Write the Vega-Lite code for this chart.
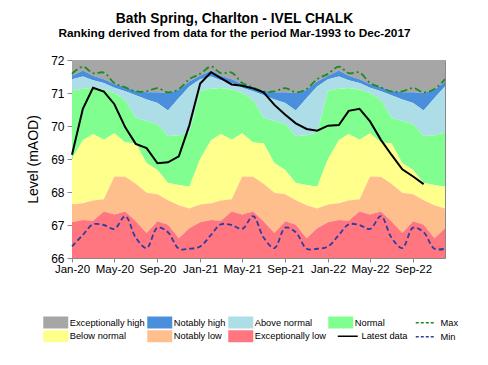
{
  "$schema": "https://vega.github.io/schema/vega-lite/v6.json",
  "autosize": {"type": "none"},
  "padding": {"left": 72, "top": 60, "right": 43, "bottom": 107},
  "width": 373,
  "height": 198,
  "title": {
    "text": "Bath Spring, Charlton - IVEL CHALK",
    "subtitle": "Ranking derived from data for the period Mar-1993 to Dec-2017",
    "font": "Liberation Sans", "fontSize": 13.8, "fontWeight": "bold", "color": "black",
    "subtitleFont": "Liberation Sans", "subtitleFontSize": 11.8, "subtitleFontWeight": "bold", "subtitleColor": "black",
    "subtitlePadding": 2, "anchor": "middle", "dx": -24, "offset": 14
  },
  "config": {
    "view": {"stroke": "#888"},
    "font": "Liberation Sans",
    "axisY": {"tickCount": 7, "labelOverlap": false, "labelFontSize": 12, "labelFont": "Liberation Sans", "labelColor": "black", "tickSize": 5, "labelPadding": 3, "domainColor": "#888", "tickColor": "#888", "grid": false}
  },
  "data": {"values": [
    {"d":"2020-01-01","b1":71.52,"b2":71.42,"b3":71.07,"b4":69.0,"b5":67.62,"b6":67.08,"mx":71.58,"mn":66.35,"lt":69.13},
    {"d":"2020-02-01","b1":71.68,"b2":71.5,"b3":71.13,"b4":69.57,"b5":67.66,"b6":67.15,"mx":71.8,"mn":66.7,"lt":70.52},
    {"d":"2020-03-01","b1":71.52,"b2":71.39,"b3":71.15,"b4":69.76,"b5":67.74,"b6":67.13,"mx":71.6,"mn":67.02,"lt":71.16},
    {"d":"2020-04-01","b1":71.42,"b2":71.3,"b3":71.1,"b4":69.58,"b5":67.78,"b6":67.41,"mx":71.62,"mn":67.0,"lt":71.04},
    {"d":"2020-05-01","b1":71.27,"b2":71.16,"b3":71.0,"b4":69.78,"b5":68.47,"b6":67.32,"mx":71.3,"mn":66.88,"lt":70.66},
    {"d":"2020-06-01","b1":71.18,"b2":71.05,"b3":70.78,"b4":69.5,"b5":68.46,"b6":67.41,"mx":71.17,"mn":67.27,"lt":69.96},
    {"d":"2020-07-01","b1":71.07,"b2":70.93,"b3":70.25,"b4":69.48,"b5":68.25,"b6":67.11,"mx":71.05,"mn":66.62,"lt":69.46},
    {"d":"2020-08-01","b1":71.02,"b2":70.8,"b3":70.15,"b4":68.87,"b5":67.98,"b6":66.76,"mx":71.05,"mn":66.3,"lt":69.33},
    {"d":"2020-09-01","b1":71.02,"b2":70.7,"b3":70.05,"b4":68.67,"b5":67.93,"b6":67.11,"mx":71.15,"mn":66.92,"lt":68.87},
    {"d":"2020-10-01","b1":71.0,"b2":70.47,"b3":69.7,"b4":68.27,"b5":67.75,"b6":67.01,"mx":71.02,"mn":66.78,"lt":68.9},
    {"d":"2020-11-01","b1":71.1,"b2":70.85,"b3":69.72,"b4":68.21,"b5":67.6,"b6":66.6,"mx":71.12,"mn":66.28,"lt":69.08},
    {"d":"2020-12-01","b1":71.35,"b2":71.2,"b3":69.8,"b4":68.16,"b5":67.5,"b6":66.9,"mx":71.42,"mn":66.28,"lt":70.02},
    {"d":"2021-01-01","b1":71.52,"b2":71.42,"b3":71.07,"b4":69.0,"b5":67.62,"b6":67.08,"mx":71.58,"mn":66.35,"lt":71.29},
    {"d":"2021-02-01","b1":71.68,"b2":71.5,"b3":71.13,"b4":69.57,"b5":67.66,"b6":67.15,"mx":71.8,"mn":66.7,"lt":71.63},
    {"d":"2021-03-01","b1":71.52,"b2":71.39,"b3":71.15,"b4":69.76,"b5":67.74,"b6":67.13,"mx":71.6,"mn":67.02,"lt":71.45},
    {"d":"2021-04-01","b1":71.42,"b2":71.3,"b3":71.1,"b4":69.58,"b5":67.78,"b6":67.41,"mx":71.62,"mn":67.0,"lt":71.26},
    {"d":"2021-05-01","b1":71.27,"b2":71.16,"b3":71.0,"b4":69.78,"b5":68.47,"b6":67.32,"mx":71.3,"mn":66.88,"lt":71.22},
    {"d":"2021-06-01","b1":71.18,"b2":71.05,"b3":70.78,"b4":69.5,"b5":68.46,"b6":67.41,"mx":71.17,"mn":67.27,"lt":71.14},
    {"d":"2021-07-01","b1":71.07,"b2":70.93,"b3":70.25,"b4":69.48,"b5":68.25,"b6":67.11,"mx":71.05,"mn":66.62,"lt":71.02},
    {"d":"2021-08-01","b1":71.02,"b2":70.8,"b3":70.15,"b4":68.87,"b5":67.98,"b6":66.76,"mx":71.05,"mn":66.3,"lt":70.64},
    {"d":"2021-09-01","b1":71.02,"b2":70.7,"b3":70.05,"b4":68.67,"b5":67.93,"b6":67.11,"mx":71.15,"mn":66.92,"lt":70.34},
    {"d":"2021-10-01","b1":71.0,"b2":70.47,"b3":69.7,"b4":68.27,"b5":67.75,"b6":67.01,"mx":71.02,"mn":66.78,"lt":70.08},
    {"d":"2021-11-01","b1":71.1,"b2":70.85,"b3":69.72,"b4":68.21,"b5":67.6,"b6":66.6,"mx":71.12,"mn":66.28,"lt":69.91},
    {"d":"2021-12-01","b1":71.35,"b2":71.2,"b3":69.8,"b4":68.16,"b5":67.5,"b6":66.9,"mx":71.42,"mn":66.28,"lt":69.86},
    {"d":"2022-01-01","b1":71.52,"b2":71.42,"b3":71.07,"b4":69.0,"b5":67.62,"b6":67.08,"mx":71.58,"mn":66.35,"lt":70.01},
    {"d":"2022-02-01","b1":71.68,"b2":71.5,"b3":71.13,"b4":69.57,"b5":67.66,"b6":67.15,"mx":71.8,"mn":66.7,"lt":70.03},
    {"d":"2022-03-01","b1":71.52,"b2":71.39,"b3":71.15,"b4":69.76,"b5":67.74,"b6":67.13,"mx":71.6,"mn":67.02,"lt":70.46},
    {"d":"2022-04-01","b1":71.42,"b2":71.3,"b3":71.1,"b4":69.58,"b5":67.78,"b6":67.41,"mx":71.62,"mn":67.0,"lt":70.52},
    {"d":"2022-05-01","b1":71.27,"b2":71.16,"b3":71.0,"b4":69.78,"b5":68.47,"b6":67.32,"mx":71.3,"mn":66.88,"lt":70.14},
    {"d":"2022-06-01","b1":71.18,"b2":71.05,"b3":70.78,"b4":69.5,"b5":68.46,"b6":67.41,"mx":71.17,"mn":67.27,"lt":69.58},
    {"d":"2022-07-01","b1":71.07,"b2":70.93,"b3":70.25,"b4":69.48,"b5":68.25,"b6":67.11,"mx":71.05,"mn":66.62,"lt":69.13},
    {"d":"2022-08-01","b1":71.02,"b2":70.8,"b3":70.15,"b4":68.87,"b5":67.98,"b6":66.76,"mx":71.05,"mn":66.3,"lt":68.69},
    {"d":"2022-09-01","b1":71.02,"b2":70.7,"b3":70.05,"b4":68.67,"b5":67.93,"b6":67.11,"mx":71.15,"mn":66.92,"lt":68.47},
    {"d":"2022-10-01","b1":71.0,"b2":70.47,"b3":69.7,"b4":68.27,"b5":67.75,"b6":67.01,"mx":71.02,"mn":66.78,"lt":68.24},
    {"d":"2022-11-01","b1":71.1,"b2":70.85,"b3":69.72,"b4":68.21,"b5":67.6,"b6":66.6,"mx":71.12,"mn":66.28,"lt":null},
    {"d":"2022-12-01","b1":71.35,"b2":71.2,"b3":69.8,"b4":68.16,"b5":67.5,"b6":66.9,"mx":71.42,"mn":66.28,"lt":null}
  ]},
  "encoding": {
    "x": {
      "field": "d", "type": "temporal",
      "scale": {"type": "utc", "domain": [{"year": 2020, "month": 1, "date": 1, "utc": true}, {"year": 2022, "month": 12, "date": 1, "utc": true}], "nice": false},
      "axis": {
        "title": null, "format": "%b-%y", "grid": false,
        "values": [
          {"year": 2020, "month": 1, "date": 1, "utc": true},
          {"year": 2020, "month": 5, "date": 1, "utc": true},
          {"year": 2020, "month": 9, "date": 1, "utc": true},
          {"year": 2021, "month": 1, "date": 1, "utc": true},
          {"year": 2021, "month": 5, "date": 1, "utc": true},
          {"year": 2021, "month": 9, "date": 1, "utc": true},
          {"year": 2022, "month": 1, "date": 1, "utc": true},
          {"year": 2022, "month": 5, "date": 1, "utc": true},
          {"year": 2022, "month": 9, "date": 1, "utc": true}
        ],
        "labelFont": "Liberation Sans", "labelFontSize": 11.5, "labelColor": "black",
        "labelOverlap": false, "labelFlush": false,
        "tickSize": 4, "labelPadding": 1, "domainColor": "#888", "tickColor": "#888"
      }
    }
  },
  "layer": [
    {
      "mark": {"type": "area", "opacity": 1},
      "encoding": {
        "y": {"field": "b1", "type": "quantitative",
          "scale": {"domain": [66, 72], "nice": false, "zero": false},
          "axis": {"title": "Level (mAOD)", "values": [66, 67, 68, 69, 70, 71, 72], "labelOverlap": false, "tickCount": 7,
            "titleFont": "Liberation Sans", "titleFontSize": 14, "titleFontWeight": "normal", "titleColor": "black", "titlePadding": 10}},
        "y2": {"datum": 72},
        "fill": {"datum": "Exceptionally high", "type": "nominal",
          "scale": {
            "domain": ["Exceptionally high", "Notably high", "Above normal", "Normal", "Below normal", "Notably low", "Exceptionally low"],
            "range": ["#A6A6A6", "#4A8FDB", "#ADDDE7", "#80FF90", "#FFFF8C", "#FFBF8C", "#FF7580"]
          },
          "legend": {
            "orient": "none", "legendX": -22.75, "legendY": 255.75, "title": null,
            "columns": 4, "direction": "horizontal", "padding": 0,
            "columnPadding": 2, "rowPadding": 1,
            "symbolType": "M-2,-0.96H2V0.96H-2Z", "symbolSize": 156, "symbolStrokeWidth": 0, "symbolOpacity": 1,
            "labelOffset": 7.5,
            "labelFont": "Liberation Sans", "labelFontSize": 9.3, "labelColor": "black", "labelLimit": 200
          }
        }
      }
    },
    {
      "mark": {"type": "area", "opacity": 1},
      "encoding": {"y": {"field": "b2", "type": "quantitative", "axis": {"title": "Level (mAOD)", "values": [66, 67, 68, 69, 70, 71, 72], "labelOverlap": false, "tickCount": 7}}, "y2": {"field": "b1"}, "fill": {"datum": "Notably high", "type": "nominal"}}
    },
    {
      "mark": {"type": "area", "opacity": 1},
      "encoding": {"y": {"field": "b3", "type": "quantitative", "axis": {"title": "Level (mAOD)", "values": [66, 67, 68, 69, 70, 71, 72], "labelOverlap": false, "tickCount": 7}}, "y2": {"field": "b2"}, "fill": {"datum": "Above normal", "type": "nominal"}}
    },
    {
      "mark": {"type": "area", "opacity": 1},
      "encoding": {"y": {"field": "b4", "type": "quantitative", "axis": {"title": "Level (mAOD)", "values": [66, 67, 68, 69, 70, 71, 72], "labelOverlap": false, "tickCount": 7}}, "y2": {"field": "b3"}, "fill": {"datum": "Normal", "type": "nominal"}}
    },
    {
      "mark": {"type": "area", "opacity": 1},
      "encoding": {"y": {"field": "b5", "type": "quantitative", "axis": {"title": "Level (mAOD)", "values": [66, 67, 68, 69, 70, 71, 72], "labelOverlap": false, "tickCount": 7}}, "y2": {"field": "b4"}, "fill": {"datum": "Below normal", "type": "nominal"}}
    },
    {
      "mark": {"type": "area", "opacity": 1},
      "encoding": {"y": {"field": "b6", "type": "quantitative", "axis": {"title": "Level (mAOD)", "values": [66, 67, 68, 69, 70, 71, 72], "labelOverlap": false, "tickCount": 7}}, "y2": {"field": "b5"}, "fill": {"datum": "Notably low", "type": "nominal"}}
    },
    {
      "mark": {"type": "area", "opacity": 1},
      "encoding": {"y": {"field": "b6", "type": "quantitative", "axis": {"title": "Level (mAOD)", "values": [66, 67, 68, 69, 70, 71, 72], "labelOverlap": false, "tickCount": 7}}, "y2": {"datum": 66}, "fill": {"datum": "Exceptionally low", "type": "nominal"}}
    },
    {
      "mark": {"type": "line", "interpolate": "catmull-rom", "strokeWidth": 1.8, "strokeDash": [7, 3, 2, 3]},
      "encoding": {
        "y": {"field": "mx", "type": "quantitative", "axis": {"title": "Level (mAOD)", "values": [66, 67, 68, 69, 70, 71, 72], "labelOverlap": false, "tickCount": 7}},
        "stroke": {"datum": "Max", "type": "nominal",
          "scale": {"domain": ["Max", "Min"], "range": ["#1E8B1E", "#2E3D9E"]},
          "legend": {
            "orient": "none", "legendX": 346.75, "legendY": 255.75, "title": null,
            "direction": "vertical", "padding": 0, "rowPadding": 1,
            "symbolType": "M-1.6,0H1.6", "symbolSize": 156, "symbolStrokeWidth": 1.3, "symbolDash": [3, 2],
            "symbolFillColor": "transparent", "symbolOpacity": 1,
            "labelOffset": 7.75,
            "labelFont": "Liberation Sans", "labelFontSize": 9.3, "labelColor": "black"
          }
        }
      }
    },
    {
      "mark": {"type": "line", "interpolate": "catmull-rom", "strokeWidth": 1.8, "strokeDash": [5, 3]},
      "encoding": {"y": {"field": "mn", "type": "quantitative", "axis": {"title": "Level (mAOD)", "values": [66, 67, 68, 69, 70, 71, 72], "labelOverlap": false, "tickCount": 7}}, "stroke": {"datum": "Min", "type": "nominal"}}
    },
    {
      "mark": {"type": "line", "strokeWidth": 2},
      "encoding": {
        "y": {"field": "lt", "type": "quantitative", "axis": {"title": "Level (mAOD)", "values": [66, 67, 68, 69, 70, 71, 72], "labelOverlap": false, "tickCount": 7}},
        "color": {"datum": "Latest data", "type": "nominal",
          "scale": {"domain": ["Latest data"], "range": ["#000000"]},
          "legend": {
            "orient": "none", "legendX": 268.75, "legendY": 269.25, "title": null,
            "direction": "vertical", "padding": 0,
            "symbolType": "M-1.6,0H1.6", "symbolSize": 156, "symbolStrokeWidth": 1.5,
            "symbolFillColor": "transparent", "symbolOpacity": 1,
            "labelOffset": 6.75,
            "labelFont": "Liberation Sans", "labelFontSize": 9.3, "labelColor": "black"
          }
        }
      }
    }
  ]
}
